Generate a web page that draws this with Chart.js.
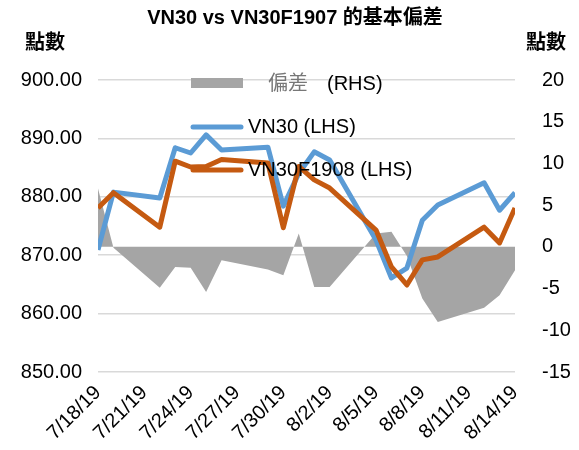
<!DOCTYPE html>
<html>
<head>
    <meta charset="UTF-8">
    <title>VN30 vs VN30F1907</title>
    <script src="https://cdn.jsdelivr.net/npm/chart.js@4.4.1/dist/chart.umd.min.js"></script>
    <style>
        body { margin: 0; background: #fff; }
        #wrap { width: 579px; height: 450px; }
    </style>
</head>
<body>
    <div id="wrap"><canvas id="basis-chart"></canvas></div>

<script>
    var dates = ['7/18/19', '7/19/19', '7/22/19', '7/23/19', '7/24/19', '7/25/19', '7/26/19', '7/29/19', '7/30/19', '7/31/19',
        '8/1/19', '8/2/19', '8/5/19', '8/6/19', '8/7/19', '8/8/19', '8/9/19', '8/12/19', '8/13/19', '8/14/19'];
    var vn30 = [870.9, 880.8, 879.8, 888.4, 887.5, 890.6, 888.0, 888.5, 878.4, 884.0,
        887.7, 886.3, 872.6, 866.1, 867.8, 876.0, 878.6, 882.4, 877.7, 880.7];
    var vn30f = [878.1, 880.7, 874.8, 886.1, 885.1, 885.2, 886.4, 885.8, 874.7, 885.2,
        882.9, 881.5, 874.3, 868.0, 864.9, 869.2, 869.7, 874.8, 872.1, 878.1];
    var basis = [7.0, -0.1, -4.9, -2.4, -2.5, -5.4, -1.6, -2.7, -3.4, 1.6,
        -4.8, -4.8, 1.6, 1.8, -1.1, -6.2, -9.0, -7.3, -5.8, -2.8];
    var tickLabels = ['7/18/19', '7/21/19', '7/24/19', '7/27/19', '7/30/19', '8/2/19', '8/5/19', '8/8/19', '8/11/19', '8/14/19'];

    var FONT = '"Liberation Sans", Arial, "Noto Sans CJK TC", sans-serif';

    // days since first date, so weekends keep their gap like a date axis
    function dayIndex(s) {
        var p = s.split('/').map(Number);
        var f = dates[0].split('/').map(Number);
        return Math.round((Date.UTC(2000 + p[2], p[0] - 1, p[1]) - Date.UTC(2000 + f[2], f[0] - 1, f[1])) / 86400000);
    }
    var xs = dates.map(dayIndex);
    function points(arr) {
        return arr.map(function (v, i) { return { x: xs[i], y: v }; });
    }

    var titlePlugin = {
        id: 'titles',
        afterDraw: function (chart) {
            var ctx = chart.ctx;
            ctx.save();
            ctx.fillStyle = '#000';
            ctx.textBaseline = 'middle';
            ctx.font = 'bold 20px ' + FONT;
            ctx.textAlign = 'center';
            ctx.fillText('VN30 vs VN30F1907 的基本偏差', 295, 18);
            ctx.textAlign = 'left';
            ctx.fillText('點數', 25, 43);
            ctx.textAlign = 'right';
            ctx.fillText('點數', 566, 43);
            ctx.restore();
        }
    };

    var legendPlugin = {
        id: 'insideLegend',
        afterDatasetsDraw: function (chart) {
            var ctx = chart.ctx;
            var ds = chart.data.datasets;
            ctx.save();
            ctx.font = '20px ' + FONT;
            ctx.textBaseline = 'middle';
            ctx.textAlign = 'left';
            // area entry
            ctx.fillStyle = ds[0].backgroundColor;
            ctx.fillRect(191, 78, 52, 10);
            var parts = ds[0].label.split(' ');
            ctx.fillStyle = '#777';
            ctx.fillText(parts[0], 268, 84);
            ctx.fillStyle = '#000';
            ctx.fillText(parts[1], 327, 84);
            // line entries
            [[ds[1], 127], [ds[2], 170]].forEach(function (item) {
                ctx.strokeStyle = item[0].borderColor;
                ctx.lineWidth = 5;
                ctx.lineCap = 'round';
                ctx.beginPath();
                ctx.moveTo(193, item[1]);
                ctx.lineTo(241, item[1]);
                ctx.stroke();
                ctx.fillStyle = '#000';
                ctx.fillText(item[0].label, 248, item[1]);
            });
            ctx.restore();
        }
    };

    var chart = new Chart(document.getElementById('basis-chart'), {
        type: 'line',
        data: {
            datasets: [{
                label: '偏差 (RHS)',
                data: points(basis),
                yAxisID: 'y2',
                backgroundColor: '#a5a5a5',
                borderWidth: 0,
                pointRadius: 0,
                fill: 'origin',
                order: 3
            }, {
                label: 'VN30 (LHS)',
                data: points(vn30),
                yAxisID: 'y',
                borderColor: '#5b9bd5',
                borderWidth: 5,
                borderJoinStyle: 'round',
                pointRadius: 0,
                fill: false,
                order: 2
            }, {
                label: 'VN30F1908 (LHS)',
                data: points(vn30f),
                yAxisID: 'y',
                borderColor: '#c55a11',
                borderWidth: 5,
                borderJoinStyle: 'round',
                pointRadius: 0,
                fill: false,
                order: 1
            }]
        },
        options: {
            responsive: true,
            maintainAspectRatio: false,
            animation: false,
            layout: { padding: { top: 80, left: 0, right: 0, bottom: 0 } },
            plugins: {
                legend: { display: false },
                title: { display: false },
                tooltip: { enabled: false }
            },
            scales: {
                x: {
                    type: 'linear',
                    min: 0,
                    max: 27,
                    grid: { display: false },
                    border: { display: false },
                    ticks: {
                        stepSize: 3,
                        autoSkip: false,
                        minRotation: 45,
                        maxRotation: 45,
                        padding: 1,
                        color: '#000',
                        font: { family: FONT, size: 20 },
                        callback: function (v) { return tickLabels[v / 3]; }
                    },
                    afterFit: function (s) { s.height = 78; }
                },
                y: {
                    position: 'left',
                    min: 850,
                    max: 900,
                    grid: { color: '#d9d9d9', lineWidth: 1.5, drawTicks: false },
                    border: { display: false },
                    ticks: {
                        stepSize: 10,
                        padding: 16,
                        color: '#000',
                        font: { family: FONT, size: 20 },
                        callback: function (v) { return v.toFixed(2); }
                    },
                    afterFit: function (s) { s.width = 98; }
                },
                y2: {
                    position: 'right',
                    min: -15,
                    max: 20,
                    grid: { display: false, drawTicks: false },
                    border: { display: false },
                    ticks: {
                        stepSize: 5,
                        padding: 27,
                        color: '#000',
                        font: { family: FONT, size: 20 }
                    },
                    afterFit: function (s) { s.width = 64; }
                }
            }
        },
        plugins: [titlePlugin, legendPlugin]
    });
</script>
</body>
</html>
